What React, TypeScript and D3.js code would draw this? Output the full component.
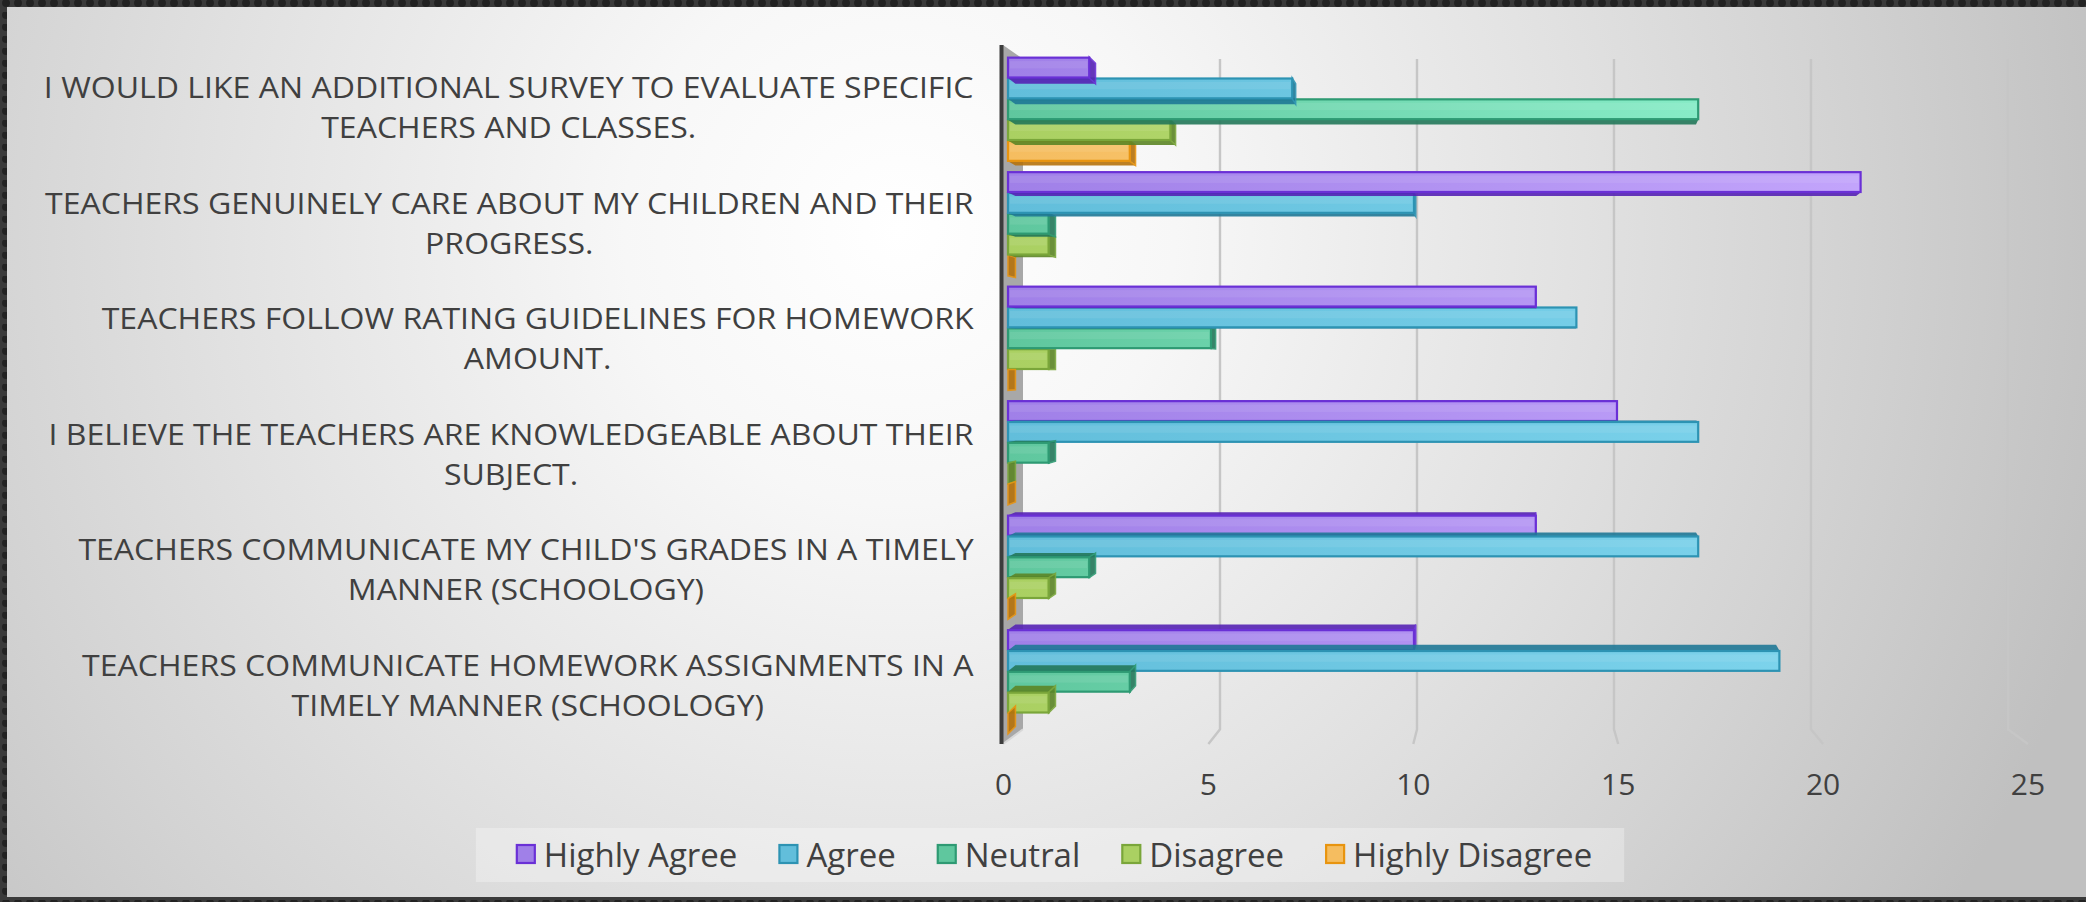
import React, { useEffect, useRef } from 'react';
import * as d3 from 'd3';

// ---------- data ----------
const categoryLines: string[][] = [
  ['I WOULD LIKE AN ADDITIONAL SURVEY TO EVALUATE SPECIFIC', 'TEACHERS AND CLASSES.'],
  ['TEACHERS GENUINELY CARE ABOUT MY CHILDREN AND THEIR', 'PROGRESS.'],
  ['TEACHERS FOLLOW RATING GUIDELINES FOR HOMEWORK', 'AMOUNT.'],
  ['I BELIEVE THE TEACHERS ARE KNOWLEDGEABLE ABOUT THEIR', 'SUBJECT.'],
  ["TEACHERS COMMUNICATE MY CHILD'S GRADES IN A TIMELY", 'MANNER (SCHOOLOGY)'],
  ['TEACHERS COMMUNICATE HOMEWORK ASSIGNMENTS IN A', 'TIMELY MANNER (SCHOOLOGY)'],
];
const seriesNames = ['Highly Agree', 'Agree', 'Neutral', 'Disagree', 'Highly Disagree'];
const highlyAgree = [2, 21, 13, 15, 13, 10];
const agree = [7, 10, 14, 17, 17, 19];
const neutral = [17, 1, 5, 1, 2, 3];
const disagree = [4, 1, 1, 0, 1, 1];
const highlyDisagree = [3, 0, 0, 0, 0, 0];
const xTicks = [0, 5, 10, 15, 20, 25];

const seriesValues = [highlyAgree, agree, neutral, disagree, highlyDisagree];

// ---------- styles ----------
const W = 2086;
const H = 902;
const palette = [
  { fill: '#a080e8', light: '#c4a6fc', stroke: '#6a30d6', side: '#5522b4' },
  { fill: '#62bedb', light: '#80d6ee', stroke: '#2d93b3', side: '#1f7896' },
  { fill: '#5fc79e', light: '#92f6d2', stroke: '#2e9a73', side: '#23785a' },
  { fill: '#aad062', light: '#c6e884', stroke: '#7aa63a', side: '#5c8526' },
  { fill: '#f5bd60', light: '#ffd68c', stroke: '#e8940f', side: '#b5720c' },
];
const TEXT = '#404040';
const FONT = '"Open Sans", "Lato", sans-serif';
const VP = { x: 1540, y: 366 };
const KX = 0.014;
const KY = 0.02;

export default function App() {
  const ref = useRef<SVGSVGElement | null>(null);

  useEffect(() => {
    const svg = d3.select(ref.current);
    svg.selectAll('*').remove();
    const defs = svg.append('defs');

    // background gradient
    const rg = defs.append('radialGradient').attr('id', 'bg')
      .attr('gradientUnits', 'userSpaceOnUse')
      .attr('cx', 900).attr('cy', 230).attr('r', 1250);
    [[0, '#ffffff'], [0.22, '#f7f7f7'], [0.55, '#e1e1e1'], [0.75, '#d3d3d3'], [1, '#c0c0c0']]
      .forEach(([o, c]) => rg.append('stop').attr('offset', o as number).attr('stop-color', c as string));

    const pat = defs.append('pattern').attr('id', 'dots').attr('patternUnits', 'userSpaceOnUse')
      .attr('width', 12).attr('height', 12);
    pat.append('rect').attr('width', 12).attr('height', 12).attr('fill', '#3a3a3a');
    pat.append('circle').attr('cx', 6).attr('cy', 3).attr('r', 4).attr('fill', '#222');

    palette.forEach((p, j) => {
      const lg = defs.append('linearGradient').attr('id', `sg${j}`)
        .attr('gradientUnits', 'userSpaceOnUse')
        .attr('x1', 1008).attr('x2', 1900).attr('y1', 0).attr('y2', 0);
      lg.append('stop').attr('offset', 0).attr('stop-color', p.fill);
      lg.append('stop').attr('offset', 1).attr('stop-color', p.light);
    });

    svg.append('rect').attr('width', W).attr('height', H).attr('fill', 'url(#dots)');
    svg.append('rect').attr('x', 7).attr('y', 7).attr('width', W - 7).attr('height', 890).attr('fill', 'url(#bg)');

    // scales
    const xBar = d3.scaleLinear().domain([0, 25]).range([1008, 1008 + 25 * 40.6]);
    const xBack = d3.scaleLinear().domain([0, 25]).range([1023, 2008]);
    const xFront = d3.scaleLinear().domain([0, 25]).range([1003.5, 2028]);
    const catIdx = categoryLines.map((_, i) => String(i));
    const yBand = d3.scaleBand().domain(catIdx).range([52, 739]).paddingInner(0.09).paddingOuter(0.045);
    const ySeries = d3.scaleBand().domain(seriesNames).range([0, yBand.bandwidth()]);
    const yLabel = d3.scalePoint().domain(catIdx).range([107.8, 685.3]);

    const backTop = 59;
    const backBottom = 729.3;
    const frontTop = 45;
    const frontBottom = 744;

    // left wall
    svg.append('polygon')
      .attr('points', [[1003, frontTop], [xBack(0), backTop], [xBack(0), backBottom], [1003, frontBottom]].map(p => p.join(',')).join(' '))
      .attr('fill', '#a8a8a8');
    svg.append('line').attr('x1', 1003).attr('y1', frontBottom).attr('x2', xBack(0)).attr('y2', backBottom)
      .attr('stroke', '#d8d8d8').attr('stroke-width', 2);

    // gridlines
    xTicks.filter(t => t > 0).forEach(t => {
      svg.append('path')
        .attr('d', `M${xBack(t)},${backTop} L${xBack(t)},${backBottom} L${xFront(t)},${frontBottom}`)
        .attr('fill', 'none').attr('stroke', '#c6c6c6').attr('stroke-width', 2.4);
    });

    // axis
    svg.append('line').attr('x1', 1001.5).attr('x2', 1001.5).attr('y1', frontTop).attr('y2', frontBottom)
      .attr('stroke', '#3c3c3c').attr('stroke-width', 4);

    // bars
    type Bar = { x0: number; x1: number; y0: number; y1: number; j: number };
    const bars: Bar[] = [];
    catIdx.forEach((c, i) => {
      seriesNames.forEach((s, j) => {
        const y0 = (yBand(c) as number) + (ySeries(s) as number);
        bars.push({ x0: xBar(0), x1: xBar(seriesValues[j][i]), y0, y1: y0 + ySeries.bandwidth(), j });
      });
    });
    bars.sort((a, b) => Math.abs((a.y0 + a.y1) / 2 - VP.y) - Math.abs((b.y0 + b.y1) / 2 - VP.y));
    const bx = (x: number) => x + (VP.x - x) * KX;
    const by = (y: number) => y + (VP.y - y) * KY;
    const gBars = svg.append('g');
    bars.forEach(b => {
      const p = palette[b.j];
      const g = gBars.append('g');
      const pts = (arr: number[][]) => arr.map(q => q.join(',')).join(' ');
      if (by(b.y1) > b.y1) {
        g.append('polygon').attr('points', pts([[b.x0, b.y1], [b.x1, b.y1], [bx(b.x1), by(b.y1)], [bx(b.x0), by(b.y1)]]))
          .attr('fill', p.side).attr('opacity', 0.9);
      }
      if (by(b.y0) < b.y0) {
        g.append('polygon').attr('points', pts([[b.x0, b.y0], [b.x1, b.y0], [bx(b.x1), by(b.y0)], [bx(b.x0), by(b.y0)]]))
          .attr('fill', p.side).attr('opacity', 0.9);
      }
      if (bx(b.x1) > b.x1) {
        g.append('polygon').attr('points', pts([[b.x1, b.y0], [b.x1, b.y1], [bx(b.x1), by(b.y1)], [bx(b.x1), by(b.y0)]]))
          .attr('fill', p.side).attr('stroke', p.stroke).attr('stroke-width', 1.5).attr('opacity', 0.9);
      }
      g.append('rect').attr('x', b.x0).attr('y', b.y0 + 0.5)
        .attr('width', Math.max(0, b.x1 - b.x0)).attr('height', b.y1 - b.y0 - 1)
        .attr('fill', `url(#sg${b.j})`).attr('stroke', p.stroke).attr('stroke-width', 2.2);
      if (b.x1 - b.x0 > 12) {
        g.append('rect').attr('x', b.x0 + 2).attr('y', b.y0 + 4)
          .attr('width', b.x1 - b.x0 - 4).attr('height', (b.y1 - b.y0) * 0.35)
          .attr('fill', '#ffffff').attr('opacity', 0.08);
      }
    });

    // tick labels
    svg.append('g').selectAll('text').data(xTicks).join('text')
      .attr('x', d => xFront(d)).attr('y', 795)
      .attr('text-anchor', 'middle').attr('font-family', FONT).attr('font-size', 30)
      .attr('fill', TEXT).text(d => String(d));

    // category labels
    const labelRight = 973.7;
    const gl = svg.append('g');
    const measure = (l: string) => {
      const t = gl.append('text').attr('font-family', FONT).attr('font-size', 30).text(l);
      const w = (t.node() as SVGTextElement).getComputedTextLength();
      t.remove();
      return w;
    };
    const sx = 930 / measure(categoryLines[0][0]);
    categoryLines.forEach((lines, i) => {
      const yc = yLabel(String(i)) as number;
      const widths = lines.map(l => measure(l) * sx);
      const cx = labelRight - (d3.max(widths) as number) / 2;
      const n = lines.length;
      lines.forEach((l, k) => {
        const yb = yc + (k - (n - 1) / 2) * 40 + 10.5;
        gl.append('text').attr('transform', `translate(${cx},${yb}) scale(${sx},1)`)
          .attr('text-anchor', 'middle').attr('font-family', FONT).attr('font-size', 30)
          .attr('fill', TEXT).text(l);
      });
    });

    // legend
    const gLeg = svg.append('g');
    const legBox = gLeg.append('rect');
    const items = seriesNames.map((name, j) => {
      const t = gLeg.append('text').attr('font-family', FONT).attr('font-size', 33)
        .attr('fill', TEXT).attr('y', 866.7).text(name);
      const w = (t.node() as SVGTextElement).getComputedTextLength();
      return { t, w, j };
    });
    const markerGap = 27;
    const itemGap = 42;
    const total = items.reduce((s, it) => s + markerGap + it.w, 0) + itemGap * (items.length - 1);
    let x = 1054.5 - total / 2;
    const startX = x;
    items.forEach(it => {
      const p = palette[it.j];
      gLeg.append('rect').attr('x', x).attr('y', 845).attr('width', 18).attr('height', 18)
        .attr('fill', p.fill).attr('stroke', p.stroke).attr('stroke-width', 2.2);
      it.t.attr('x', x + markerGap);
      x += markerGap + it.w + itemGap;
    });
    const endX = x - itemGap;
    legBox.attr('x', startX - 41).attr('y', 828).attr('width', endX - startX + 41 + 32).attr('height', 54)
      .attr('fill', '#ffffff').attr('opacity', 0.3);
  }, []);

  return (
    <svg ref={ref} width={W} height={H}
      style={{ position: 'absolute', left: 0, top: 0, display: 'block' }} />
  );
}
